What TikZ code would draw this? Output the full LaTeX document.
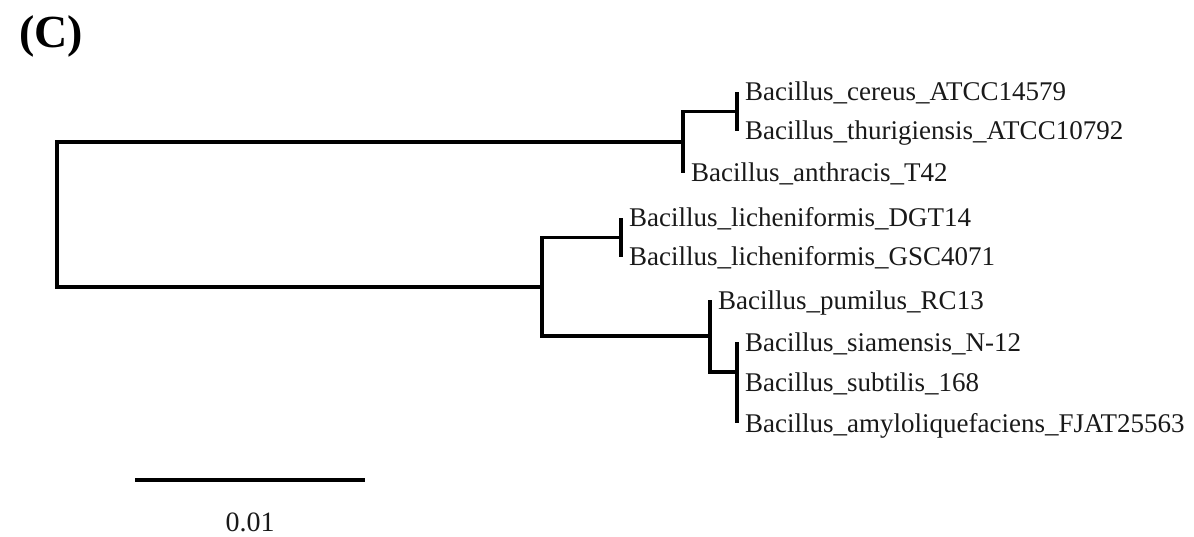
\documentclass[tikz,border=0pt]{standalone}
\usepackage{fontspec}
\setmainfont{Liberation Serif}
\begin{document}
\begin{tikzpicture}[x=1pt,y=-1pt,
  branch/.style={draw=black,line width=3.2pt,line join=miter,line cap=butt},
  leaflabel/.style={anchor=base west,inner sep=0pt,font=\fontsize{27}{30}\selectfont,text=black!90},
  scalelabel/.style={anchor=base,inner sep=0pt,font=\fontsize{28}{30}\selectfont,text=black!90},
  paneltitle/.style={anchor=base west,inner sep=0pt,font=\fontsize{46}{50}\selectfont\bfseries}]
\useasboundingbox (0,0) rectangle (1194,537);
% title
\node[paneltitle] (title) at (19,48) {(C)};
% internal nodes
\coordinate (root) at (57,214.5);
\coordinate (ntop) at (683,142);
\coordinate (nbc) at (737,111.5);
\coordinate (nbot) at (542,287);
\coordinate (nlich) at (621,237.5);
\coordinate (npum) at (710,336);
\coordinate (nsub) at (737,372);
% leaves
\coordinate (lcer) at (737,92);
\coordinate (lthu) at (737,131);
\coordinate (lant) at (683,173);
\coordinate (ldgt) at (621,218);
\coordinate (lgsc) at (621,257);
\coordinate (lpum) at (710,300);
\coordinate (lsia) at (737,342);
\coordinate (lsub) at (737,382);
\coordinate (lamy) at (737,423);
% branches
\draw[branch] (root) |- (ntop);
\draw[branch] (root) |- (nbot);
\draw[branch] (ntop) |- (nbc);
\draw[branch] (ntop) |- (lant);
\draw[branch] (nbc) |- (lcer);
\draw[branch] (nbc) |- (lthu);
\draw[branch] (nbot) |- (nlich);
\draw[branch] (nbot) |- (npum);
\draw[branch] (nlich) |- (ldgt);
\draw[branch] (nlich) |- (lgsc);
\draw[branch] (npum) |- (lpum);
\draw[branch] (npum) |- (nsub);
\draw[branch] (nsub) |- (lsia);
\draw[branch] (nsub) |- (lsub);
\draw[branch] (nsub) |- (lamy);
% labels
\node[leaflabel] (tcer) at ([xshift=8pt,yshift=-9pt]lcer) {Bacillus\_cereus\_ATCC14579};
\node[leaflabel] (tthu) at ([xshift=8pt,yshift=-9pt]lthu) {Bacillus\_thurigiensis\_ATCC10792};
\node[leaflabel] (tant) at ([xshift=8pt,yshift=-9pt]lant) {Bacillus\_anthracis\_T42};
\node[leaflabel] (tdgt) at ([xshift=8pt,yshift=-9pt]ldgt) {Bacillus\_licheniformis\_DGT14};
\node[leaflabel] (tgsc) at ([xshift=8pt,yshift=-9pt]lgsc) {Bacillus\_licheniformis\_GSC4071};
\node[leaflabel] (tpum) at ([xshift=8pt,yshift=-9pt]lpum) {Bacillus\_pumilus\_RC13};
\node[leaflabel] (tsia) at ([xshift=8pt,yshift=-9pt]lsia) {Bacillus\_siamensis\_N-12};
\node[leaflabel] (tsub) at ([xshift=8pt,yshift=-9pt]lsub) {Bacillus\_subtilis\_168};
\node[leaflabel] (tamy) at ([xshift=8pt,yshift=-9pt]lamy) {Bacillus\_amyloliquefaciens\_FJAT25563};
% scale bar
\coordinate (sbl) at (135,480);
\coordinate (sbr) at (365,480);
\draw[branch] (sbl) -- (sbr);
\node[scalelabel] (sblabel) at (250,531) {0.01};
\end{tikzpicture}
\end{document}
